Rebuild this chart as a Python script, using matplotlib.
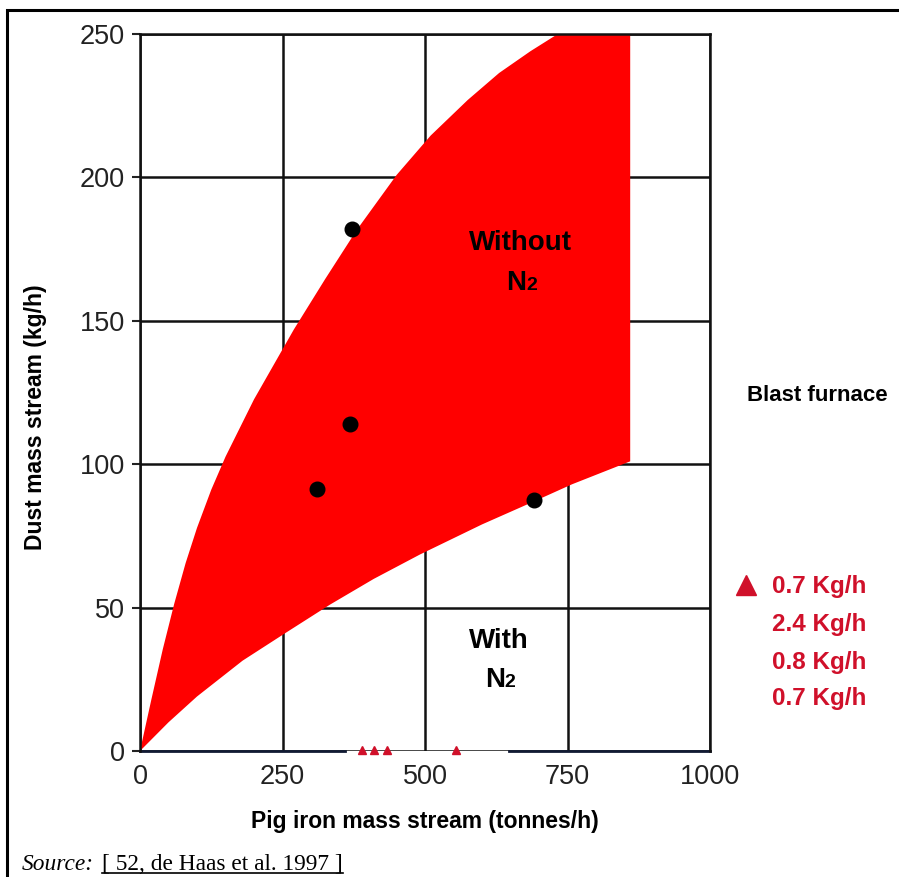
import matplotlib.pyplot as plt
from matplotlib.lines import Line2D
from matplotlib.patches import Rectangle

plt.rcParams['font.family'] = ['Liberation Sans', 'DejaVu Sans']

# Envelope of the red area (pig iron t/h, dust kg/h)
upper_x = [0, 20, 40, 60, 80, 100, 125, 150, 200, 270, 325, 380, 450, 510, 575, 630,
           685, 733, 860]
upper_y = [0, 18, 35.5, 51.3, 65.5, 77.8, 91.1, 102.6, 122.6, 147, 164.6, 181.6, 200.8,
           214.6, 227, 236.4, 244, 250, 250]
lower_x = [0, 50, 100, 180, 258, 333, 410, 491, 600, 691, 758, 860]
lower_y = [0, 10, 19, 31.5, 41.5, 51, 60, 68.5, 79, 87, 93, 101]

# Measured blast furnaces
dots_x = [372, 368, 310, 691]
dots_y = [182, 114, 91.5, 87.5]

# Red triangles on the x axis
tri_x = [389, 411, 433, 554]
tri_y = [0.5, 0.5, 0.5, 0.5]

legend_labels = ["0.7 Kg/h", "2.4 Kg/h", "0.8 Kg/h", "0.7 Kg/h"]

xticks = [0, 250, 500, 750, 1000]
yticks = [0, 50, 100, 150, 200, 250]
# parts of the bottom axis line that are drawn
bottom_segments = [(0, 360), (647, 1000)]

W, H = 899, 877
fig = plt.figure(figsize=(W / 100, H / 100), dpi=100)
ax = fig.add_axes([140 / W, 1 - 751 / H, 570 / W, 717 / H])

poly_x = upper_x + lower_x[::-1]
poly_y = upper_y + lower_y[::-1]
ax.fill(poly_x, poly_y, color='#ff0000', lw=0, zorder=2)

ax.plot(dots_x, dots_y, 'o', color='black', ms=10.5, zorder=4)
ax.plot(tri_x, tri_y, '^', color='#d0102a', ms=6, clip_on=False, zorder=5)

ax.set_xlim(0, 1000)
ax.set_ylim(0, 250)
ax.set_xticks(xticks)
ax.set_yticks(yticks)
ax.grid(True, color='#111111', lw=1.8)
ax.set_axisbelow(True)
for s in ['left', 'top', 'right']:
    ax.spines[s].set_linewidth(1.8)
    ax.spines[s].set_color('#111111')
    ax.spines[s].set_zorder(3)
ax.spines['bottom'].set_visible(False)
for a, b in bottom_segments:
    ax.plot([a, b], [0, 0], color='#111a33', lw=2, clip_on=False, zorder=3)

ax.tick_params(axis='y', length=6, width=1.5, pad=5, labelsize=19.5, colors='#222222')
ax.tick_params(axis='x', length=0, pad=9, labelsize=19.5, colors='#222222')

ax.set_xlabel('Pig iron mass stream (tonnes/h)', fontsize=16.5, fontweight='bold', labelpad=15)
ax.set_ylabel('Dust mass stream (kg/h)', fontsize=16.5, fontweight='bold')
ax.yaxis.set_label_coords(-0.163, 0.466)

# region labels: word, then N with a small 2 sitting on the baseline
ax.text(667, 174.7, 'Without', ha='center', va='baseline', fontsize=20,
        fontweight='bold', zorder=6)
ax.text(677, 160.7, 'N', ha='right', va='baseline', fontsize=20, fontweight='bold', zorder=6)
ax.text(677, 160.7, '2', ha='left', va='baseline', fontsize=14, fontweight='bold', zorder=6)
ax.text(630, 35.9, 'With', ha='center', va='baseline', fontsize=20,
        fontweight='bold', zorder=6)
ax.text(640, 22.4, 'N', ha='right', va='baseline', fontsize=20, fontweight='bold', zorder=6)
ax.text(640, 22.4, '2', ha='left', va='baseline', fontsize=14, fontweight='bold', zorder=6)

fig.text(817 / W, 1 - 396 / H, 'Blast furnace', ha='center', va='center',
         fontsize=16, fontweight='bold')

fig.lines.append(Line2D([746 / W], [1 - 585 / H], marker='^', color='#d0102a',
                        ms=14, transform=fig.transFigure))
for i, lab in enumerate(legend_labels):
    fig.text(772 / W, 1 - [587, 625, 662, 698][i] / H, lab, ha='left', va='center',
             fontsize=17.5, fontweight='bold', color='#d0102a')

# outer frame
fig.patches.append(Rectangle((7 / W, -0.01), 1.0, 1 - 10 / H + 0.01, fill=False,
                             lw=2.2, edgecolor='black', transform=fig.transFigure))

# source line
t1 = fig.text(22 / W, 1 - 870 / H, 'Source:', fontsize=16.8, style='italic',
              family='Liberation Serif', va='baseline')
fig.canvas.draw()
bb = t1.get_window_extent()
x2 = bb.x1 + 8
t2 = fig.text(x2 / W, 1 - 870 / H, '[ 52, de Haas et al. 1997 ]', fontsize=16.8,
              family='Liberation Serif', va='baseline')
fig.canvas.draw()
bb2 = t2.get_window_extent()
fig.lines.append(Line2D([bb2.x0 / W, bb2.x1 / W], [1 - 873 / H] * 2,
                        color='black', lw=1.2, transform=fig.transFigure))

fig.savefig('out.png', dpi=100)
